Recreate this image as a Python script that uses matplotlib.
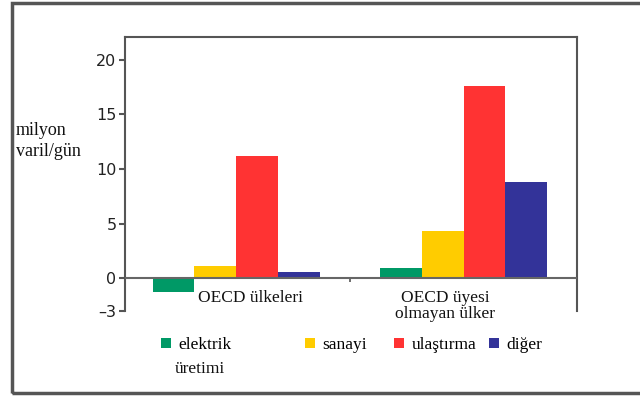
import numpy as np
import matplotlib.pyplot as plt
from matplotlib.patches import Rectangle

plt.rcParams['font.family'] = ['Liberation Serif', 'DejaVu Serif']

# petrol tüketimi, sektörlere göre (milyon varil/gün)
groups = ['OECD ülkeleri', 'OECD üyesi\nolmayan ülker']
sectors = ['elektrik\nüretimi', 'sanayi', 'ulaştırma', 'diğer']
oecd = [-1.3, 1.1, 11.2, 0.6]
non_oecd = [0.9, 4.3, 17.6, 8.8]
colours = ['#009966', '#FFCC00', '#FF3333', '#333399']
yticks = [-3, 0, 5, 10, 15, 20]

fig = plt.figure(figsize=(6.4, 3.98), dpi=100)
ax = fig.add_axes([0.195, 0.219, 0.707, 0.688])

# outer frame round the whole figure
fig.patches.append(Rectangle((12/640, 1 - 393/398), 1.0, 390/398, transform=fig.transFigure,
                             fill=False, edgecolor='#555555', linewidth=2.5))

x = np.arange(len(groups))
width = 0.184
values = np.array([oecd, non_oecd])
bars = []
for i, sector in enumerate(sectors):
    b = ax.bar(x + (i - 1.5) * width, values[:, i], width, color=colours[i], label=sector, zorder=2)
    bars.append(b)

ax.set_xlim(-0.49, 1.5)
ax.set_ylim(-3, 22.1)
ax.axhline(0, color='#666666', linewidth=1.5, zorder=3)

for side in ['left', 'top', 'right']:
    ax.spines[side].set_color('#555555')
    ax.spines[side].set_linewidth(1.5)
# bottom spine hidden but moved to zero so the x tick hangs off the zero line
ax.spines['bottom'].set_position(('data', 0))
ax.spines['bottom'].set_visible(False)

ax.set_yticks(yticks)
ax.set_yticklabels(['\u20133' if t < 0 else str(t) for t in yticks], family='DejaVu Sans', fontsize=11.5, color='#222222')
ax.tick_params(axis='y', length=4, width=1.5, color='#555555', pad=2)

# single tick between the groups on the zero line
ax.set_xticks([0.5])
ax.set_xticklabels([''])
ax.tick_params(axis='x', length=3, width=1.2, color='#555555')

# group names sit under the zero line
label_x = [0.065, 0.92]
for xi, name in zip(label_x, groups):
    ax.text(xi, -1.05, name, ha='center', va='top', fontsize=12.5, color='#111111', linespacing=1.05)

fig.text(16/640, 1 - 141/398, 'milyon\nvaril/gün', ha='left', va='center', fontsize=13,
         color='#111111', linespacing=1.25)

# legend entries spread out under the chart; the key sits next to the first line only
legend_x = [161/640, 305/640, 394/640, 489/640]
legend_y = 1 - 337/398
for b, sector, lx in zip(bars, sectors, legend_x):
    first, *rest = sector.split('\n')
    leg = fig.legend(handles=[b], labels=[first], loc='upper left', bbox_to_anchor=(lx, legend_y),
                     frameon=False, fontsize=12.5, handlelength=0.55, handleheight=0.55,
                     handletextpad=0.45, borderpad=0, borderaxespad=0, labelspacing=0)
    for line_no, extra in enumerate(rest, start=1):
        fig.text(lx + 14/640, legend_y - line_no * 24/398, extra, ha='left', va='top',
                 fontsize=12.5, color='#111111')

plt.savefig('out.png', dpi=100)
